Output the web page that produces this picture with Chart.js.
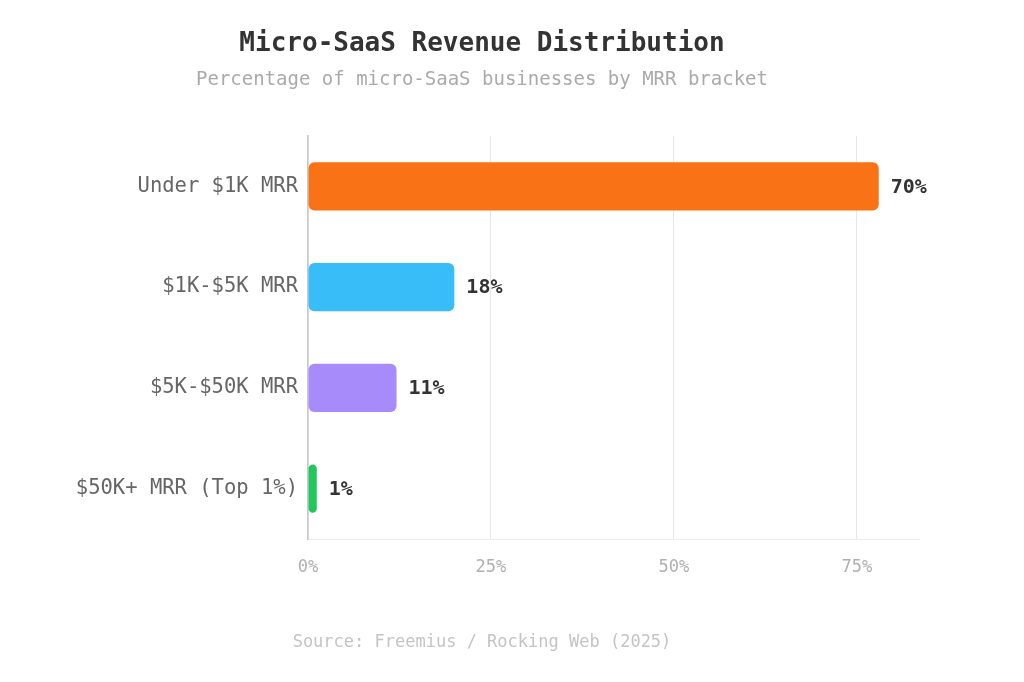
<!DOCTYPE html>
<html>
<head>
<meta charset="utf-8">
<script src="https://cdn.jsdelivr.net/npm/chart.js@4/dist/chart.umd.min.js"></script>
<style>
  html, body { margin: 0; padding: 0; background: #ffffff; }
  #wrap { position: relative; width: 1024px; height: 682px; }
  #source { position: absolute; left: 0; width: 964px; top: 630px; text-align: center;
    font-family: "DejaVu Sans Mono", monospace; font-size: 17px; color: #c4c4c4; line-height: 22px; }
</style>
</head>
<body>
<div id="wrap">
  <canvas id="c" width="1024" height="682"></canvas>
  <div id="source">Source: Freemius / Rocking Web (2025)</div>
</div>
<script>
const categories = ["Under $1K MRR", "$1K-$5K MRR", "$5K-$50K MRR", "$50K+ MRR (Top 1%)"];
const barValues = [78, 20, 12.1, 1.2];
const valueLabels = ["70%", "18%", "11%", "1%"];
const barColors = ["#f97316", "#38bdf8", "#a78bfa", "#22c55e"];
const xTickValues = [0, 25, 50, 75];

const FONT = "'DejaVu Sans Mono', monospace";

const valueLabelPlugin = {
  id: 'valueLabels',
  afterDatasetsDraw(chart) {
    const ctx = chart.ctx;
    const meta = chart.getDatasetMeta(0);
    ctx.save();
    ctx.font = "bold 20px " + FONT;
    ctx.fillStyle = "#333333";
    ctx.textAlign = "left";
    ctx.textBaseline = "middle";
    meta.data.forEach((bar, i) => {
      ctx.fillText(valueLabels[i], bar.x + 12, bar.y + 1);
    });
    ctx.restore();
  }
};

new Chart(document.getElementById('c'), {
  type: 'bar',
  data: {
    labels: categories,
    datasets: [{
      data: barValues,
      backgroundColor: barColors,
      borderRadius: 6,
      borderSkipped: false,
      categoryPercentage: 0.8,
      barPercentage: 0.6
    }]
  },
  options: {
    indexAxis: 'y',
    responsive: false,
    animation: false,
    layout: { padding: { left: 45, right: 105, top: 0, bottom: 103 } },
    plugins: {
      legend: { display: false },
      tooltip: { enabled: false },
      title: {
        display: true,
        text: "Micro-SaaS Revenue Distribution",
        color: "#333333",
        font: { family: FONT, size: 26, weight: 'bold', lineHeight: 1.2 },
        padding: { top: 28.5, bottom: 9 }
      },
      subtitle: {
        display: true,
        text: "Percentage of micro-SaaS businesses by MRR bracket",
        color: "#aaaaaa",
        font: { family: FONT, size: 19, lineHeight: 1.2 },
        padding: { top: 0, bottom: 44.5 }
      }
    },
    scales: {
      x: {
        min: 0,
        max: 83.5,
        afterBuildTicks(scale) {
          scale.ticks = xTickValues.map(v => ({ value: v }));
        },
        afterFit(scale) { scale.height = 40; },
        grid: { color: "#e8e8e8", drawTicks: false, lineWidth: 1 },
        border: { display: true, color: "#ececec" },
        ticks: {
          color: "#b0b0b0",
          font: { family: FONT, size: 17 },
          padding: 18,
          callback: (v) => v + "%"
        }
      },
      y: {
        afterFit(scale) { scale.width = 263; },
        grid: { display: false, drawTicks: false },
        border: { display: true, color: "#c8c8c8", width: 1.5 },
        ticks: {
          color: "#666666",
          font: { family: FONT, size: 20.5 },
          padding: 10
        }
      }
    }
  },
  plugins: [valueLabelPlugin]
});
</script>
</body>
</html>
